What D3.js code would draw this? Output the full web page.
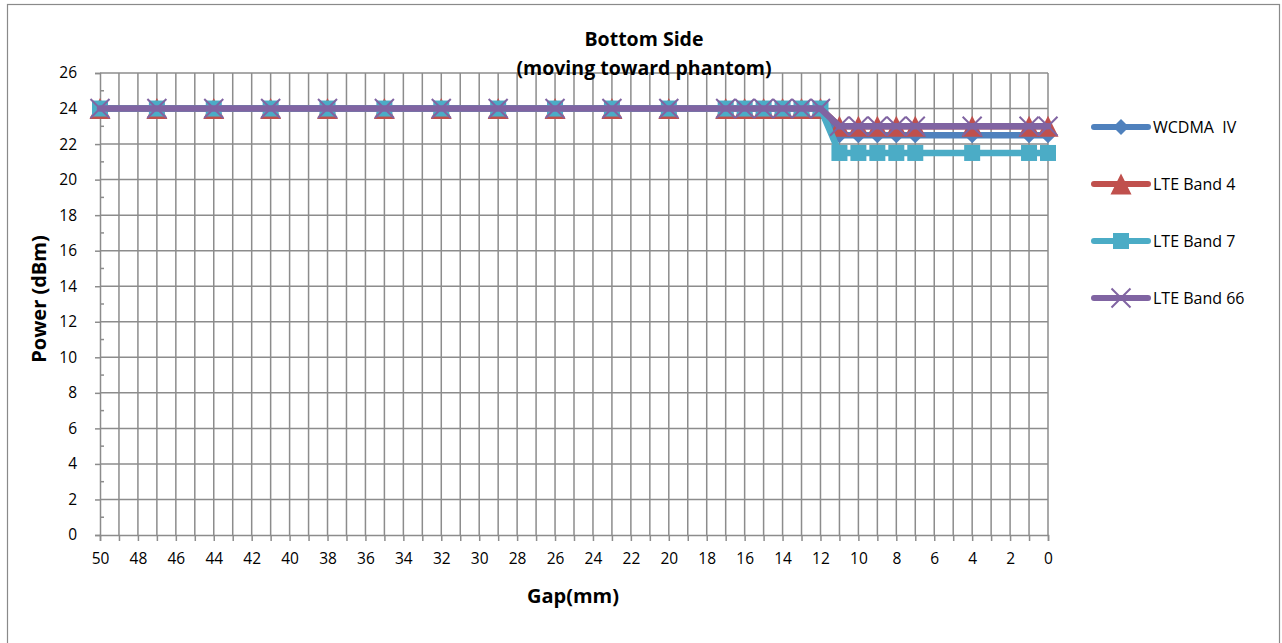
<!DOCTYPE html>
<html><head><meta charset="utf-8">
<script src="https://cdn.jsdelivr.net/npm/d3@7"></script>
<style>body{margin:0;background:#fff;} text{font-family:"Open Sans",sans-serif;fill:#000;}</style>
</head><body>
<svg id="c" width="1282" height="643"></svg>
<script>
const gaps = [50,47,44,41,38,35,32,29,26,23,20,17,16,15,14,13,12,11,10,9,8,7,4,1,0];
const wcdmaIV = [24,24,24,24,24,24,24,24,24,24,24,24,24,24,24,24,24,22.5,22.5,22.5,22.5,22.5,22.5,22.5,22.5];
const lteBand4 = [24,24,24,24,24,24,24,24,24,24,24,24,24,24,24,24,24,23,23,23,23,23,23,23,23];
const lteBand7 = [24,24,24,24,24,24,24,24,24,24,24,24,24,24,24,24,24,21.5,21.5,21.5,21.5,21.5,21.5,21.5,21.5];
const lteBand66 = [24,24,24,24,24,24,24,24,24,24,24,24,24,24,24,24,24,23,23,23,23,23,23,23,23];
const seriesNames = ["WCDMA  IV","LTE Band 4","LTE Band 7","LTE Band 66"];
const xTicks = d3.range(50,-1,-2);
const yTicks = d3.range(0,27,2);
const titleLines = ["Bottom Side","(moving toward phantom)"];

const series = [
  {name:seriesNames[0], values:wcdmaIV, color:"#4F81BD", marker:"diamond"},
  {name:seriesNames[1], values:lteBand4, color:"#C0504D", marker:"triangle"},
  {name:seriesNames[2], values:lteBand7, color:"#4BACC6", marker:"square"},
  {name:seriesNames[3], values:lteBand66, color:"#8064A2", marker:"x"}
];

const svg = d3.select("#c");
svg.append("rect").attr("x",7.5).attr("y",4.5).attr("width",1272).attr("height",660)
  .attr("fill","#fff").attr("stroke","#8a8a8a").attr("stroke-width",1.2);

const x = d3.scaleLinear().domain([50,0]).range([100,1048]);
const y = d3.scaleLinear().domain([0,26]).range([535,73]);
const grid = "#8c8c8c";

// vertical gridlines every unit
svg.append("g").selectAll("line").data(d3.range(49,-1,-1)).join("line")
  .attr("x1",d=>x(d)).attr("x2",d=>x(d)).attr("y1",y(26)).attr("y2",y(0))
  .attr("stroke",grid).attr("stroke-width",1.5);
// horizontal gridlines
svg.append("g").selectAll("line").data(yTicks.filter(d=>d>0)).join("line")
  .attr("x1",x(50)).attr("x2",x(0)).attr("y1",d=>y(d)).attr("y2",d=>y(d))
  .attr("stroke",grid).attr("stroke-width",1.5);

// axes
const yAxis = d3.axisLeft(y).tickValues(yTicks).tickSize(5).tickPadding(18);
const gy = svg.append("g").attr("transform",`translate(${x(50)},0)`).call(yAxis);
gy.select(".domain").attr("stroke",grid).attr("stroke-width",1.5);
gy.selectAll(".tick line").attr("stroke",grid).attr("stroke-width",1.5);
gy.selectAll(".tick text").style("font-size","15.5px");
// minor y ticks inside
svg.append("g").selectAll("line").data(d3.range(1,26,2)).join("line")
  .attr("x1",x(50)).attr("x2",x(50)+4).attr("y1",d=>y(d)).attr("y2",d=>y(d))
  .attr("stroke",grid).attr("stroke-width",1.5);

const xAxis = d3.axisBottom(x).tickValues(d3.range(50,-1,-1)).tickSize(6).tickPadding(12)
  .tickFormat(d=> xTicks.includes(d) ? d : "");
const gx = svg.append("g").attr("transform",`translate(0,${y(0)})`).call(xAxis);
gx.select(".domain").attr("stroke",grid).attr("stroke-width",1.5);
gx.selectAll(".tick line").attr("stroke",grid).attr("stroke-width",1.5);
gx.selectAll(".tick text").style("font-size","15.5px");

// markers
function drawMarker(g, type, cx, cy, color){
  if(type==="diamond"){
    g.append("path").attr("d",`M${cx},${cy-8}L${cx+8},${cy}L${cx},${cy+8}L${cx-8},${cy}Z`).attr("fill",color);
  } else if(type==="triangle"){
    g.append("path").attr("d",`M${cx},${cy-10.5}L${cx+10.5},${cy+10.5}L${cx-10.5},${cy+10.5}Z`).attr("fill",color);
  } else if(type==="square"){
    g.append("rect").attr("x",cx-8).attr("y",cy-8).attr("width",16).attr("height",16).attr("fill",color);
  } else if(type==="x"){
    g.append("path").attr("d",`M${cx-9.5},${cy-9.5}L${cx+9.5},${cy+9.5}M${cx+9.5},${cy-9.5}L${cx-9.5},${cy+9.5}`)
      .attr("stroke",color).attr("stroke-width",2).attr("fill","none");
  }
}

const line = d3.line().x((d,i)=>x(gaps[i])).y(d=>y(d));
series.forEach(s=>{
  const g = svg.append("g");
  g.append("path").attr("d",line(s.values)).attr("fill","none").attr("stroke",s.color)
    .attr("stroke-width",6.5).attr("stroke-linejoin","round").attr("stroke-linecap","round");
  s.values.forEach((v,i)=>drawMarker(g,s.marker,x(gaps[i]),y(v),s.color));
});

// title
svg.append("text").attr("x",644).attr("y",46).attr("text-anchor","middle")
  .style("font-size","19.5px").style("font-weight","bold").text(titleLines[0]);
svg.append("text").attr("x",644).attr("y",75).attr("text-anchor","middle")
  .style("font-size","19.5px").style("font-weight","bold").text(titleLines[1]);

// axis titles
svg.append("text").attr("x",573).attr("y",603).attr("text-anchor","middle")
  .style("font-size","20px").style("font-weight","bold").text("Gap(mm)");
svg.append("text").attr("transform","translate(46,299) rotate(-90)").attr("text-anchor","middle")
  .style("font-size","20px").style("font-weight","bold").text("Power (dBm)");

// legend
const legY = [127,184,241,298];
series.forEach((s,i)=>{
  const g = svg.append("g");
  g.append("line").attr("x1",1094).attr("x2",1148).attr("y1",legY[i]).attr("y2",legY[i])
    .attr("stroke",s.color).attr("stroke-width",6).attr("stroke-linecap","round");
  drawMarker(g,s.marker,1121,legY[i],s.color);
  g.append("text").attr("x",1153).attr("y",legY[i]+6).style("font-size","16px")
    .style("white-space","pre").text(s.name);
});
</script>
</body></html>
